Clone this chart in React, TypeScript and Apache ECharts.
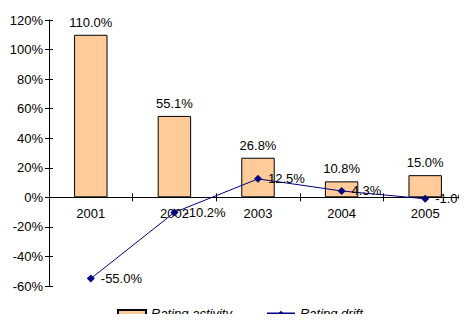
import React, { useEffect, useRef } from "react";
import * as echarts from "echarts";

const years = ["2001", "2002", "2003", "2004", "2005"];
const ratingActivity = [110.0, 55.1, 26.8, 10.8, 15.0];
const ratingDrift = [-55.0, -10.2, 12.5, 4.3, -1.0];

const FONT = "Liberation Sans, Arial, sans-serif";
const FS = 13;
const pct = (v: number) => `${v.toFixed(1)}%`;

const Y_MIN = -60;
const Y_MAX = 120;
const GRID_TOP = 20;
const GRID_BOTTOM = 36;
const CHART_H = 322;
// vertical pixel distance from the grid's bottom edge up to the 0% line
const plotH = CHART_H - GRID_TOP - GRID_BOTTOM;
const zeroOffset = -(plotH * (0 - Y_MIN)) / (Y_MAX - Y_MIN);

export default function App() {
  const ref = useRef<HTMLDivElement>(null);

  useEffect(() => {
    if (!ref.current) return;
    const chart = echarts.init(ref.current, undefined, { renderer: "svg" });
    const axisColor = "#000";
    chart.setOption({
      animation: false,
      textStyle: { fontFamily: FONT },
      grid: { left: 49, right: 0, top: GRID_TOP, bottom: GRID_BOTTOM, containLabel: false },
      legend: {
        top: 302,
        left: 112,
        itemGap: 34,
        itemWidth: 28,
        itemHeight: 7,
        textStyle: { fontFamily: FONT, fontSize: FS, fontStyle: "italic", color: "#000" },
        data: [
          { name: "Rating activity", icon: "rect" },
          { name: "Rating drift" },
        ],
      },
      xAxis: [
        {
          type: "category",
          data: years,
          position: "bottom",
          offset: zeroOffset,
          axisLine: { onZero: false, lineStyle: { color: axisColor, width: 1 } },
          axisTick: { show: true, length: 4, lineStyle: { color: axisColor } },
          axisLabel: { color: "#000", fontSize: FS, fontFamily: FONT, margin: 10 },
        },
        {
          type: "category",
          data: years,
          position: "bottom",
          offset: zeroOffset,
          axisLine: { show: false, onZero: false },
          axisTick: { show: true, inside: true, length: 4, lineStyle: { color: axisColor } },
          axisLabel: { show: false },
        },
      ],
      yAxis: [
        {
          type: "value",
          min: Y_MIN,
          max: Y_MAX,
          interval: 20,
          splitLine: { show: false },
          axisLine: { show: true, onZero: false, lineStyle: { color: axisColor, width: 1 } },
          axisTick: { show: true, length: 4, lineStyle: { color: axisColor } },
          axisLabel: {
            color: "#000",
            fontSize: FS,
            fontFamily: FONT,
            margin: 6,
            formatter: (v: number) => `${v}%`,
          },
        },
        {
          type: "value",
          min: Y_MIN,
          max: Y_MAX,
          interval: 20,
          position: "left",
          splitLine: { show: false },
          axisLine: { show: false, onZero: false },
          axisTick: { show: true, inside: true, length: 4, lineStyle: { color: axisColor } },
          axisLabel: { show: false },
        },
      ],
      series: [
        {
          name: "Rating activity",
          type: "bar",
          data: ratingActivity,
          barWidth: "40%",
          itemStyle: { color: "#FFCC99", borderColor: "#000", borderWidth: 1 },
          label: {
            show: true,
            position: "top",
            distance: 6,
            color: "#000",
            fontSize: FS,
            fontFamily: FONT,
            formatter: (p: any) => pct(p.value),
          },
          z: 2,
        },
        {
          name: "Rating drift",
          type: "line",
          data: ratingDrift,
          symbol: "diamond",
          symbolSize: 8,
          lineStyle: { color: "#000080", width: 1 },
          itemStyle: { color: "#000080" },
          label: {
            show: true,
            position: "right",
            distance: 6,
            color: "#000",
            fontSize: FS,
            fontFamily: FONT,
            formatter: (p: any) => pct(p.value),
          },
          z: 5,
        },
      ],
    });
    return () => chart.dispose();
  }, []);

  return <div ref={ref} style={{ width: 467, height: 322, margin: -8 }} />;
}
